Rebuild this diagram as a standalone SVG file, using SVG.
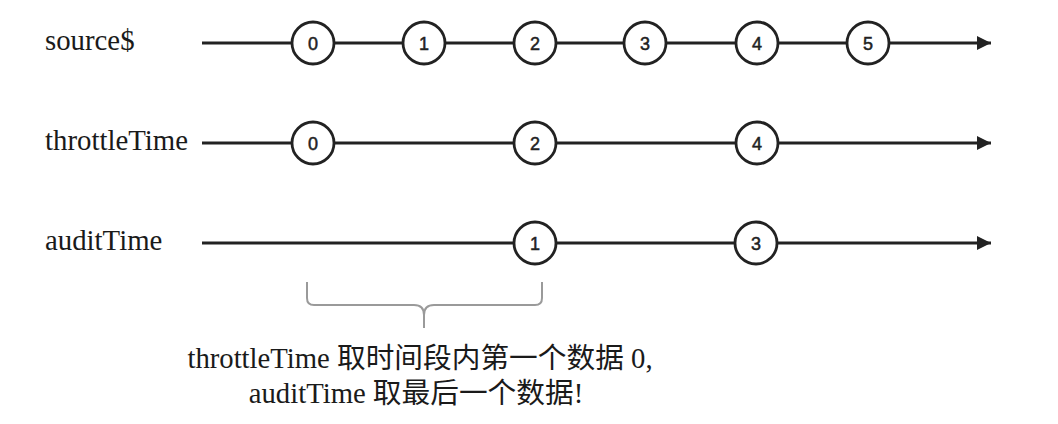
<svg xmlns="http://www.w3.org/2000/svg" width="1058" height="424" viewBox="0 0 1058 424">
<style>
.lbl{font-family:"Liberation Serif","Times New Roman",serif;font-size:28.8px;fill:#1a1a1a}
.note{font-family:"Liberation Serif","Noto Sans CJK SC",serif;font-size:28.7px;fill:#1a1a1a}
.ln{stroke:#222;stroke-width:3;fill:none}
.c circle{fill:#fff;stroke:#222;stroke-width:2.8}
.c text{font-family:"Liberation Sans",Arial,sans-serif;font-size:18px;fill:#222;stroke:#222;stroke-width:0.5;text-anchor:middle}
.br{stroke:#9a9a9a;stroke-width:2;fill:none}
</style>
<defs>
<marker id="ah" viewBox="0 0 14 14" refX="14" refY="7" markerWidth="14" markerHeight="14" markerUnits="userSpaceOnUse" orient="auto">
<path d="M0,0 L14,7 L0,14 Z" fill="#222"/>
</marker>
</defs>
<g id="labels">
<text class="lbl" x="45" y="50">source$</text>
<text class="lbl" x="45" y="150">throttleTime</text>
<text class="lbl" x="45" y="250">auditTime</text>
</g>
<g id="connectors">
<line class="ln" x1="202" y1="43" x2="991" y2="43" marker-end="url(#ah)"/>
<line class="ln" x1="202" y1="143" x2="991" y2="143" marker-end="url(#ah)"/>
<line class="ln" x1="202" y1="243" x2="991" y2="243" marker-end="url(#ah)"/>
</g>
<g id="source">
<g class="c"><circle cx="313" cy="43" r="21"/><text x="313" y="49.5">0</text></g>
<g class="c"><circle cx="424" cy="43" r="21"/><text x="424" y="49.5">1</text></g>
<g class="c"><circle cx="535" cy="43" r="21"/><text x="535" y="49.5">2</text></g>
<g class="c"><circle cx="645" cy="43" r="21"/><text x="645" y="49.5">3</text></g>
<g class="c"><circle cx="757" cy="43" r="21"/><text x="757" y="49.5">4</text></g>
<g class="c"><circle cx="868" cy="43" r="21"/><text x="868" y="49.5">5</text></g>
</g>
<g id="throttle">
<g class="c"><circle cx="313" cy="143" r="21"/><text x="313" y="149.5">0</text></g>
<g class="c"><circle cx="535" cy="143" r="21"/><text x="535" y="149.5">2</text></g>
<g class="c"><circle cx="757" cy="143" r="21"/><text x="757" y="149.5">4</text></g>
</g>
<g id="audit">
<g class="c"><circle cx="535" cy="243" r="21"/><text x="535" y="249.5">1</text></g>
<g class="c"><circle cx="756" cy="243" r="21"/><text x="756" y="249.5">3</text></g>
</g>
<g id="brace">
<path class="br" d="M307,282 V298 Q307,305 314,305 H414 Q424,305 424,315 V328 M424,315 Q424,305 434,305 H535 Q542,305 542,298 V282"/>
</g>
<g id="note">
<text class="note" x="420" y="368" text-anchor="middle">throttleTime 取时间段内第一个数据 0,</text>
<text class="note" x="416" y="403" text-anchor="middle">auditTime 取最后一个数据!</text>
</g>
</svg>
